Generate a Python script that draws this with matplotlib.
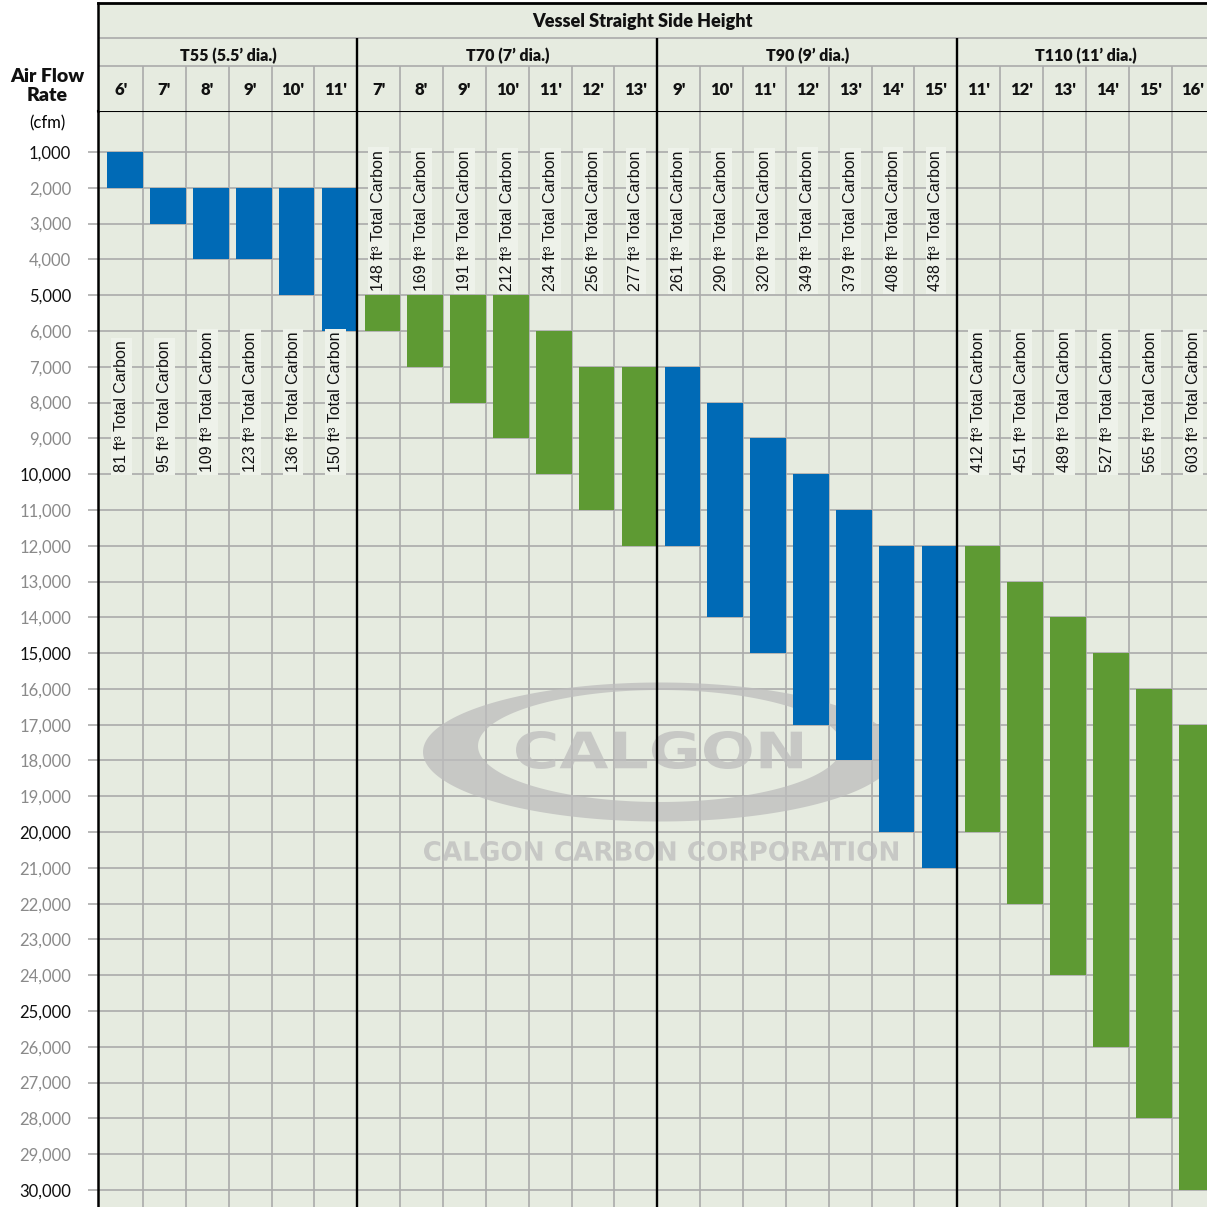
import matplotlib
matplotlib.use("Agg")
import matplotlib.pyplot as plt
import numpy as np
from matplotlib.textpath import TextPath
from matplotlib.font_manager import FontProperties
from matplotlib.patches import PathPatch
from matplotlib.path import Path
from matplotlib.transforms import Affine2D

# ---- data ----
groups = ["T55 (5.5’ dia.)", "T70 (7’ dia.)", "T90 (9’ dia.)", "T110 (11’ dia.)"]
heights = [
    ["6'", "7'", "8'", "9'", "10'", "11'"],
    ["7'", "8'", "9'", "10'", "11'", "12'", "13'"],
    ["9'", "10'", "11'", "12'", "13'", "14'", "15'"],
    ["11'", "12'", "13'", "14'", "15'", "16'"],
]
flow_min = [
    [1000, 2000, 2000, 2000, 2000, 2000],
    [5000, 5000, 5000, 5000, 6000, 7000, 7000],
    [7000, 8000, 9000, 10000, 11000, 12000, 12000],
    [12000, 13000, 14000, 15000, 16000, 17000],
]
flow_max = [
    [2000, 3000, 4000, 4000, 5000, 6000],
    [6000, 7000, 8000, 9000, 10000, 11000, 12000],
    [12000, 14000, 15000, 17000, 18000, 20000, 21000],
    [20000, 22000, 24000, 26000, 28000, 30000],
]
carbon = [
    [81, 95, 109, 123, 136, 150],
    [148, 169, 191, 212, 234, 256, 277],
    [261, 290, 320, 349, 379, 408, 438],
    [412, 451, 489, 527, 565, 603],
]
yticks = list(range(1000, 30001, 1000))

# ---- style ----
W = H = 1207
bg = "#E6EBE0"
grid = "#ABABAB"
bar_colors = ["#006AB6", "#5E9A33", "#006AB6", "#5E9A33"]
label_y = [9950, 4880, 4880, 9950]
ncols = sum(len(h) for h in heights)
hdr = dict(family="Lato", weight="heavy", color="#111111")

fig = plt.figure(figsize=(W / 100, H / 100), dpi=100, facecolor="white")
px = Affine2D().scale(1 / W, -1 / H).translate(0, 1) + fig.transFigure

axw = 1116.5 / W
ax = fig.add_axes([98 / W, 0, axw, (H - 111) / H])
hx = fig.add_axes([98 / W, 1 - 111 / H, axw, 108 / H])

# ---- main grid ----
ax.set_facecolor(bg)
for y in yticks:
    ax.axhline(y, color=grid, lw=1.2, zorder=1)
bounds = np.cumsum([len(h) for h in heights])[:-1]
for v in range(1, ncols):
    if v in bounds:
        ax.axvline(v, color="black", lw=1.7, zorder=3)
    else:
        ax.axvline(v, color=grid, lw=1.2, zorder=1)

# ---- bars + carbon labels ----
col = 0
for g in range(len(groups)):
    for i in range(len(heights[g])):
        lo, hi = flow_min[g][i], flow_max[g][i]
        ax.bar(col + 0.17, hi - lo, bottom=lo, width=0.83, align="edge",
               color=bar_colors[g], zorder=2)
        ax.text(col + 0.5, label_y[g], f"{carbon[g][i]} ft³ Total Carbon",
                rotation=90, ha="center", va="bottom", fontsize=11.5,
                family="Liberation Sans", color="#111111", zorder=4,
                bbox=dict(boxstyle="square,pad=0.18", fc="#EEF2EA", ec="none"))
        col += 1

ax.set_xlim(-0.05, ncols)
ax.set_ylim(30475, -146)
ax.set_xticks([])
ax.set_yticks(yticks)
ax.set_yticklabels([f"{t:,}" for t in yticks], family="Lato", fontsize=12)
for t, lab in zip(yticks, ax.get_yticklabels()):
    lab.set_color("#111111" if t % 5000 == 0 or t == 1000 else "#8A8A8A")
ax.tick_params(axis="y", length=7.2, width=1.2, color=grid, pad=12)
for s in ["right", "bottom"]:
    ax.spines[s].set_visible(False)
ax.spines["left"].set_linewidth(1.8)
ax.spines["top"].set_linewidth(1.5)

# ---- watermark ----
wm = "#BDBDBD"
t = np.linspace(0, 2 * np.pi, 240)
outer = np.c_[660 + 237 * np.cos(t), 752 + 69.5 * np.sin(t)]
inner = np.c_[660 + 182 * np.cos(t), 746 + 56 * np.sin(t)][::-1]
verts = np.vstack([outer, inner])
codes = np.full(len(verts), Path.LINETO)
codes[0] = codes[len(outer)] = Path.MOVETO
ax.add_patch(PathPatch(Path(verts, codes), transform=px, fc=wm, ec="none",
                       alpha=0.75, zorder=1.5))


def fit_text(s, x0, x1, y0, y1):
    tp = TextPath((0, 0), s, size=10,
                  prop=FontProperties(family="DejaVu Sans", weight="bold"))
    e = tp.get_extents()
    tr = Affine2D().translate(-e.x0, -e.y0).scale((x1 - x0) / e.width,
                                                   -(y1 - y0) / e.height).translate(x0, y1)
    return Path(tr.transform(tp.vertices), tp.codes)


for s, box in [("CALGON", (516, 802, 731, 769)),
               ("CALGON CARBON CORPORATION", (424, 898, 841, 861))]:
    ax.add_patch(PathPatch(fit_text(s, *box), transform=px, fc=wm, ec="none",
                           alpha=0.75, zorder=1.5))

# ---- header ----
hx.set_facecolor(bg)
hx.set_xlim(-0.05, ncols)
hx.set_ylim(108, 0)
hx.set_xticks([])
hx.set_yticks([])
for s in ["right", "bottom"]:
    hx.spines[s].set_visible(False)
hx.spines["top"].set_linewidth(2)
hx.spines["left"].set_linewidth(1.8)
hx.axhline(35, color=grid, lw=1.2)
hx.axhline(63, color=grid, lw=1.2)
for v in range(1, ncols):
    if v in bounds:
        hx.vlines(v, 35, 108, color="black", lw=1.7)
    else:
        hx.vlines(v, 63, 108, color=grid, lw=1.2)

hx.text(12.65, 19, "Vessel Straight Side Height", ha="center", va="center",
        fontsize=13, **hdr)
starts = [0] + list(bounds)
for g, name in enumerate(groups):
    hx.text(starts[g] + len(heights[g]) / 2, 53, name, ha="center", va="center",
            fontsize=11.5, **hdr)
    for i, h in enumerate(heights[g]):
        hx.text(starts[g] + i + 0.5, 87, h, ha="center", va="center",
                fontsize=12, **hdr)

fig.text(47 / W, 1 - 86 / H, "Air Flow\nRate", ha="center", va="center",
         fontsize=14, linespacing=1.15, **hdr)
fig.text(47 / W, 1 - 123 / H, "(cfm)", ha="center", va="center",
         family="Lato", fontsize=12)

fig.savefig("out.png", dpi=100, facecolor="white")
